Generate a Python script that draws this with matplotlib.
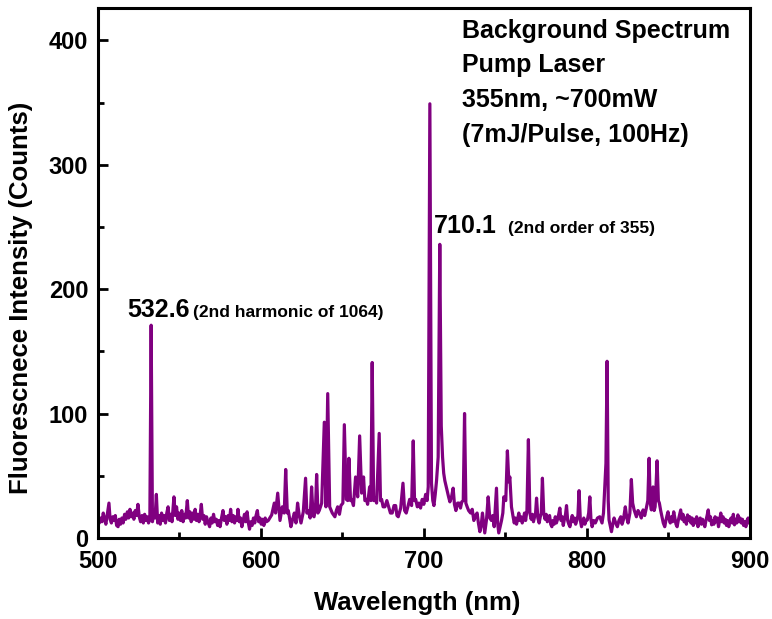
import matplotlib
matplotlib.use("Agg")
import matplotlib.pyplot as plt
from matplotlib.ticker import MultipleLocator

plt.rcParams['font.family'] = ['Liberation Sans', 'DejaVu Sans']
plt.rcParams['font.weight'] = 'bold'

# spectrum (nm, counts), 500-604 nm
wl_a = [
    500, 500.8, 501.6, 502.4, 503.2, 504, 504.8, 505.6, 506.7, 507.4,
    508.2, 509, 509.8, 510.6, 511.4, 512.3, 513, 513.8, 514.6, 515.4,
    516.3, 517.1, 518, 518.8, 519.6, 520.4, 521.2, 522, 522.8, 523.6,
    524.5, 525.3, 526.1, 527, 527.8, 528.6, 529.4, 530.2, 531, 531.8,
    532.6, 533.4, 534.2, 535, 535.8, 536.6, 537.4, 538.2, 539, 539.8,
    540.6, 541.4, 542.2, 543, 543.8, 544.6, 545.4, 546.6, 547.4, 548.2,
    549, 549.8, 550.6, 551.4, 552.2, 553, 553.8, 554.8, 555.6, 556.4,
    557.2, 558, 558.8, 559.6, 560.4, 561.2, 562, 562.8, 563.4, 564.2,
    565, 565.8, 566.6, 567.4, 568.5, 569.3, 570.1, 570.9, 571.7, 572.6,
    573.4, 574.2, 574.9, 575.8, 576.7, 577.5, 578.3, 579.1, 579.9, 580.7,
    581.4, 582.2, 583, 583.8, 584.6, 585.4, 585.9, 586.7, 587.5, 588.3,
    589.1, 589.9, 590.7, 591.5, 592.3, 593, 593.8, 594.6, 595.4, 596.2,
    597, 597.8, 598.6, 599.4, 600.2, 601, 601.8, 602.6, 603.4,
]
ct_a = [
    17, 12, 16, 13, 20, 15, 11, 18, 28, 15,
    12, 17, 14, 18, 10, 9, 15, 11, 16, 12,
    19, 15, 21, 16, 23, 17, 20, 15, 22, 18,
    27, 17, 13, 18, 12, 19, 14, 17, 12, 15,
    171, 13, 22, 16, 35, 12, 18, 11, 20, 14,
    18, 12, 20, 25, 14, 19, 13, 33, 18, 25,
    15, 20, 14, 22, 13, 19, 16, 30, 16, 21,
    13, 20, 15, 23, 14, 19, 13, 20, 27, 15,
    18, 11, 17, 13, 9, 16, 12, 19, 13, 15,
    10, 14, 9, 16, 22, 14, 17, 11, 18, 14,
    23, 13, 18, 12, 17, 14, 23, 13, 16, 9,
    14, 19, 13, 21, 12, 7, 13, 10, 16, 12,
    18, 22, 13, 16, 11, 15, 10, 16, 13,
]

# 604-754 nm (dense line region, main peaks)
wl_b = [
    604.5, 606.6, 608.2, 609, 610.3, 611.7, 613.1, 614.3, 615.2, 616.2, 616.8, 618.4,
    619.5, 620.5, 621.5, 622.5, 623.5, 624.6, 626, 627.4, 628.2, 629.1, 630.2, 631.1, 632,
    632.6, 633.5, 634.2, 635, 635.8, 637.3, 638.9, 639.9, 641, 642.2, 643.8, 645.4, 646.3,
    647.1, 648.2, 649.1, 650.3, 651.2, 652.4, 653.3, 654, 655, 655.7, 656.8, 658.1, 659.4,
    660.6, 661.8, 663, 663.8, 664.7, 665.5, 666.7, 667.5, 668.3, 669.2, 670, 671, 672.6,
    673.4, 674.1, 675, 676.1, 677.3, 678.6, 679.5, 680.6, 681.7, 682.7, 683.5, 684.3, 685.8,
    687.2, 688.2, 689.2, 690.2, 691.3, 692.5, 693.5, 694.3, 695, 696, 697, 698, 699, 700,
    701.1, 702, 702.7, 703.7, 704.7, 705.5, 706.2, 707, 707.8, 708.8, 709.8, 710.7, 711.5,
    712.2, 712.9, 714.3, 715.2, 716, 717, 718, 718.8, 719.7, 720.7, 721.7, 722.5, 723.3,
    724.2, 725, 725.8, 726.6, 727.5, 728.7, 729.7, 730.7, 731.7, 732.7, 733.5, 734.4, 735.2,
    736, 736.7, 737.4, 738.5, 739.5, 740.5, 741.5, 742.3, 743.2, 744.6, 745.3, 746, 747,
    747.7, 748.5, 749.1, 750.3, 751.3, 752.2, 752.8, 753.8,
]
ct_b = [
    14, 18.5, 28, 20, 36, 14, 25, 20, 55, 20, 22, 9,
    15, 20, 12, 28, 18, 12, 21, 48, 20, 22, 16, 41, 18,
    17, 24, 51, 20, 22, 28, 93, 25, 116, 25, 20, 17, 22,
    25, 19, 26, 28, 91, 31, 30, 64, 30, 31, 26, 49, 33,
    82, 36, 49, 30, 31, 27, 41, 30, 141, 30, 32, 28, 84,
    30, 31, 25, 25, 30, 24, 20, 20, 26, 26, 18, 17, 24,
    44, 22, 20, 25, 31, 26, 78, 30, 31, 25, 28, 24, 31, 27,
    35, 30, 41, 349, 44, 30, 26, 35, 46, 65, 236, 90, 65,
    52, 46, 38, 33, 29, 33, 40, 27, 22, 28, 28, 24, 29,
    30, 100, 28, 25, 22, 20, 23, 14, 18, 20, 12, 5, 10,
    20, 12, 4, 15, 33, 16, 14, 18, 9, 40, 12, 4, 10,
    14, 20, 33, 30, 70, 45, 49, 25,
]

# 754-800 nm
wl_c = [
    754.8, 755.5, 756.2, 756.9, 757.6, 758.3, 759, 759.7, 760.4, 761.1,
    761.8, 762.5, 763.3, 764.2, 765.1, 765.9, 766.6, 767.3, 768, 768.6,
    769.2, 770, 770.8, 771.5, 772.1, 772.8, 773.6, 774.4, 775.1, 775.8,
    776.5, 777.2, 777.9, 778.6, 779.3, 780, 780.7, 781.4, 782.1, 782.8,
    783.5, 784.2, 784.9, 785.6, 786.3, 787, 787.6, 788.3, 789, 789.7,
    790.4, 791.1, 791.8, 792.5, 793.2, 793.9, 794.6, 795.3, 796.1, 796.8,
    797.5, 798.2, 798.9, 799.6, 800.4,
]
ct_c = [
    17, 12, 16, 11, 15, 20, 14, 17, 12, 15,
    20, 14, 22, 79, 20, 15, 19, 13, 17, 20,
    32, 16, 12, 17, 20, 48, 20, 15, 19, 13,
    15, 18, 11, 9, 14, 11, 17, 12, 15, 19,
    24, 14, 17, 10, 15, 19, 26, 14, 11, 9,
    14, 18, 13, 16, 11, 14, 18, 38, 14, 9,
    13, 16, 11, 14, 14.5,
]

# 801-846 nm
wl_d = [
    801.2, 801.9, 802.6, 803.3, 804.3, 805.3, 806.6, 808, 809.4, 810.3, 811, 811.8, 812.5,
    813.2, 813.7, 815.2, 816, 816.8, 817.8, 818.8, 819.8, 820.9, 821.7, 822.5, 823.7, 824.6,
    825.4, 826.5, 827.4, 828.2, 829.1, 830.5, 831.5, 832.5, 833.5, 834.6, 835.6, 836.6,
    837.5, 838.3, 839, 839.7, 840.7, 841.4, 842, 843.2, 844, 844.6, 845.4,
]
ct_d = [
    20, 33, 15, 9, 14, 12, 16, 17, 12, 20, 38, 60, 142,
    30, 14.5, 5, 11, 16, 12, 9, 14, 17, 11, 14.5, 25, 16,
    12, 20, 47, 28, 22.5, 17, 22, 20, 16, 22.5, 18, 24,
    30, 64, 28, 22.5, 41, 22, 25, 62, 30, 28, 22,
]

# 846-900 nm
wl_e = [
    846.2, 847, 847.9, 848.6, 849.3, 849.9, 850.6, 851.3, 852, 852.7,
    853.4, 854.1, 854.8, 855.5, 856.2, 856.9, 857.7, 858.4, 859.1, 859.8,
    860.5, 861.2, 861.9, 862.6, 863.3, 864, 864.7, 865.4, 866.1, 866.8,
    867.5, 868.3, 869, 869.7, 870.4, 871.1, 871.8, 872.5, 873.2, 873.9,
    874.6, 875.3, 876, 876.7, 877.4, 878.1, 878.8, 879.5, 880.2, 880.9,
    881.6, 882.3, 883, 883.7, 884.4, 885.1, 885.8, 886.5, 887.2, 887.9,
    888.6, 889.3, 890, 890.7, 891.4, 892.1, 892.8, 893.5, 894.2, 894.9,
    895.6, 896.3, 897, 897.7, 898.4, 899.1, 900,
]
ct_e = [
    17, 12, 9, 14, 18, 21, 15, 12, 17, 13,
    21, 16, 11, 9, 14, 18, 22.5, 15, 19, 13,
    16, 11, 18.5, 14, 17, 12, 16, 10, 15, 12,
    17, 9, 13, 16, 11, 15, 12, 9, 14, 18,
    22.5, 14, 17, 10.5, 14, 11, 17, 13, 16, 9,
    14, 20, 13, 17, 12, 15, 10, 14, 9, 13,
    16, 12, 19, 10.5, 15, 12, 18.5, 13, 16, 12,
    15, 10, 13, 9, 14, 16, 12,
]

peak_labels = ["532.6", "710.1"]
peak_notes = ["(2nd harmonic of 1064)", "(2nd order of 355)"]
info_lines = ["Background Spectrum", "Pump Laser", "355nm, ~700mW", "(7mJ/Pulse, 100Hz)"]

wavelength = wl_a + wl_b + wl_c + wl_d + wl_e
counts = ct_a + ct_b + ct_c + ct_d + ct_e

fig = plt.figure(figsize=(7.72, 6.19), dpi=100)
ax = fig.add_axes([0.127, 0.131, 0.844, 0.856])

ax.plot(wavelength, counts, color='#800080', linewidth=2.3)

ax.set_xlim(500, 900)
ax.set_ylim(0, 426)
ax.xaxis.set_major_locator(MultipleLocator(100))
ax.xaxis.set_minor_locator(MultipleLocator(50))
ax.yaxis.set_major_locator(MultipleLocator(100))
ax.yaxis.set_minor_locator(MultipleLocator(50))
ax.tick_params(which='both', direction='in', width=2, top=False, right=False)
ax.tick_params(which='major', length=7, labelsize=17)
ax.tick_params(axis='x', which='major', pad=9)
ax.tick_params(axis='y', which='major', pad=7)
ax.tick_params(which='minor', length=4)
for lbl in ax.get_xticklabels() + ax.get_yticklabels():
    lbl.set_fontweight('bold')
for sp in ax.spines.values():
    sp.set_linewidth(2.2)

ax.set_xlabel('Wavelength (nm)', fontsize=18.5, fontweight='bold')
ax.set_ylabel('Fluorescnece Intensity (Counts)', fontsize=18.5, fontweight='bold')
ax.xaxis.set_label_coords(0.49, -0.1)
ax.yaxis.set_label_coords(-0.1, 0.453)

# peak annotations
ax.text(517.8, 177.5, peak_labels[0], fontsize=18, fontweight='bold')
ax.text(558.3, 177.5, peak_notes[0], fontsize=12.5, fontweight='bold')
ax.text(706.1, 245, peak_labels[1], fontsize=18, fontweight='bold')
ax.text(751.5, 245, peak_notes[1], fontsize=12.5, fontweight='bold')

# info block top right
for i, line in enumerate(info_lines):
    ax.text(723.3, 402 - i * 27.8, line, fontsize=18, fontweight='bold')

fig.savefig('out.png', dpi=100)
